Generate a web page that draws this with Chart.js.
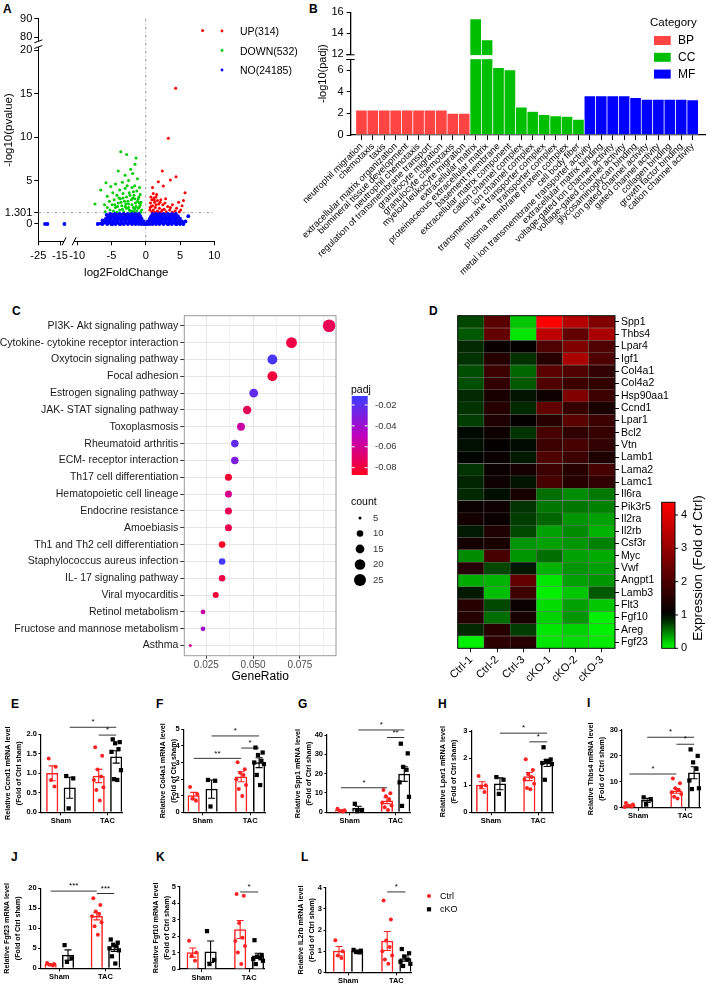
<!DOCTYPE html>
<html>
<head>
<meta charset="utf-8">
<title>Figure</title>
<script src="https://cdn.jsdelivr.net/npm/chart.js@4.4.1/dist/chart.umd.min.js"></script>
<style>
  html, body { margin: 0; padding: 0; background: #fff; }
  body { position: relative; width: 709px; height: 985px; overflow: hidden; font-family: "Liberation Sans", Arial, sans-serif; }
  .tag { position: absolute; font-weight: bold; font-size: 12px; line-height: 12px; }
</style>
</head>
<body>
<div class="tag" style="left:3px;top:3px">A</div>
<div class="tag" style="left:309px;top:3px">B</div>
<div class="tag" style="left:12px;top:305px">C</div>
<div class="tag" style="left:429px;top:305px">D</div>
<div class="tag" style="left:11px;top:698px">E</div>
<div class="tag" style="left:156px;top:698px">F</div>
<div class="tag" style="left:298px;top:698px">G</div>
<div class="tag" style="left:438px;top:698px">H</div>
<div class="tag" style="left:587px;top:697px">I</div>
<div class="tag" style="left:11px;top:851px">J</div>
<div class="tag" style="left:156px;top:851px">K</div>
<div class="tag" style="left:301px;top:851px">L</div>
<script>
// ---------- A: volcano plot, [log2FoldChange, -log10(pvalue)] ----------
const volLegend = ['UP(314)', 'DOWN(532)', 'NO(24185)'];
const volXTicks = [-25, -15, -10, -5, 0, 5, 10];
const volYTicks = [0, 1.301, 5, 10, 15, 20, 80, 90];
const upPts = [[8.3,83.6],[4.37,15.6],[3.3,9.85],[2.42,6.1],[4.42,5.44],[3.6,5.06],[1.84,4.86],[2.57,4.37],[5.73,3.6],[1.0,4.2],
  [1.1,3.5],[1.5,3.1],[1.2,3.0],[0.9,2.8],[1.7,2.7],[2.2,2.8],[2.9,2.9],[4.8,2.5],[5.3,2.1],[5.5,2.7],[3.9,2.2],[0.7,2.4],
  [1.3,2.5],[1.9,2.3],[2.5,2.2],[3.2,2.0],[0.8,2.0],[1.4,1.9],[2.0,1.8],[2.7,1.7],[3.5,1.6],[4.3,1.5],[0.6,1.6],[1.1,1.6],
  [1.7,1.5],[2.3,1.45],[3.0,1.4],[3.9,1.35],[4.9,1.4],[0.9,1.4],[1.5,2.2],[1.0,2.1],[2.1,2.5],[1.3,1.35],[5.1,1.6],[4.5,1.8],
  [1.25,2.75],[0.75,3.1],[1.6,3.4],[2.8,2.4],[3.6,1.9],[2.4,1.6],[1.9,1.35],[0.65,1.9]];
const downPts = [[-3.64,8.3],[-2.77,8.0],[-1.41,7.6],[-1.56,6.86],[-4.0,6.1],[-7.39,2.3],[-6.56,3.9],[-5.79,4.75],[-5.1,4.3],
  [-2.2,6.3],[-1.9,5.8],[-3.0,5.6],[-1.2,5.2],[-2.5,5.0],[-3.4,4.8],[-4.4,4.6],[-1.6,4.4],[-0.9,4.2],[-2.0,4.2],[-3.0,4.1],
  [-3.8,3.9],[-4.8,3.6],[-5.6,3.2],[-1.3,3.8],[-2.4,3.6],[-3.3,3.5],[-4.2,3.3],[-0.8,3.4],[-1.7,3.3],[-2.8,3.1],[-3.7,2.9],
  [-4.6,2.8],[-5.3,2.6],[-6.0,2.2],[-1.1,2.9],[-2.1,2.8],[-3.1,2.6],[-4.0,2.4],[-4.9,2.2],[-5.6,1.9],[-0.7,2.5],[-1.5,2.4],
  [-2.5,2.3],[-3.5,2.1],[-4.4,1.9],[-5.2,1.6],[-0.9,2.0],[-1.8,1.9],[-2.8,1.8],[-3.8,1.6],[-4.7,1.5],[-5.9,1.4],[-0.6,1.6],
  [-1.3,1.5],[-2.2,1.45],[-3.2,1.4],[-4.2,1.35],[-0.75,1.35],[-1.6,1.75],[-2.4,1.6],[-3.0,2.0],[-2.0,2.2],[-1.2,2.6],
  [-2.6,2.6],[-3.6,2.5],[-1.9,3.0],[-2.3,3.3],[-1.0,3.1],[-0.8,2.2],[-1.4,2.0],[-2.7,4.4],[-1.8,3.7],[-3.9,3.0],[-1.1,1.8],
  [-2.0,1.5],[-3.4,1.7],[-4.5,2.2],[-1.6,2.9],[-2.9,2.3],[-0.95,2.45],[-3.3,3.0],[-2.5,1.9],[-1.7,1.45],[-4.1,2.0]];
const noPts = [[-21.9,0],[-20.8,0],[-13,0],[-7.0,0],[-6.6,0.05],[-6.3,0.4],[-4.9,-0.03],[-3.7,0],[6.2,0.9],[5.8,0.3],[5.4,0.05],[4.5,0],[3.3,0],
  [-6.3,0],[-5.6,0],[-5.0,0],[-4.4,0],[-3.8,0],[-3.2,0],[-2.6,0],[-2.0,0],[-1.5,0],[-1.0,0],[-0.6,0],[-0.25,0],[0,0],[0.25,0],
  [0.6,0],[1.0,0],[1.5,0],[2.0,0],[2.6,0],[3.2,0],[3.8,0],[4.4,0],[5.0,0],[5.5,0],
  [-5.9,0.15],[-5.3,0.15],[-4.7,0.15],[-4.1,0.15],[-3.5,0.15],[-2.9,0.15],[-2.3,0.15],[-1.75,0.15],[-1.25,0.15],[-0.8,0.15],
  [-0.45,0.15],[0.45,0.15],[0.8,0.15],[1.25,0.15],[1.75,0.15],[2.3,0.15],[2.9,0.15],[3.5,0.15],[4.1,0.15],[4.7,0.15],[5.2,0.15],
  [-6.0,0.3],[-5.3,0.3],[-4.7,0.3],[-4.1,0.3],[-3.5,0.3],[-2.9,0.3],[-2.3,0.3],[-1.8,0.3],[-1.3,0.3],[-0.9,0.3],[-0.5,0.3],
  [-0.3,0.3],[0.3,0.3],[0.5,0.3],[0.9,0.3],[1.3,0.3],[1.8,0.3],[2.3,0.3],[2.9,0.3],[3.5,0.3],[4.1,0.3],[4.7,0.3],[5.3,0.3],
  [-5.6,0.45],[-4.9,0.45],[-4.3,0.45],[-3.6,0.45],[-3.0,0.45],[-2.4,0.45],[-1.8,0.45],[-1.3,0.45],[-0.8,0.45],[0.8,0.45],
  [1.3,0.45],[1.8,0.45],[2.4,0.45],[3.0,0.45],[3.6,0.45],[4.3,0.45],[4.9,0.45],
  [-5.8,0.6],[-5.1,0.6],[-4.4,0.6],[-3.8,0.6],[-3.2,0.6],[-2.6,0.6],[-2.0,0.6],[-1.5,0.6],[-1.0,0.6],[-0.6,0.6],[0.6,0.6],
  [1.0,0.6],[1.5,0.6],[2.0,0.6],[2.6,0.6],[3.2,0.6],[3.8,0.6],[4.4,0.6],[5.0,0.6],
  [-5.3,0.75],[-4.6,0.75],[-4.0,0.75],[-3.4,0.75],[-2.8,0.75],[-2.2,0.75],[-1.7,0.75],[-1.25,0.75],[-0.85,0.75],[0.75,0.75],
  [1.25,0.75],[1.7,0.75],[2.2,0.75],[2.8,0.75],[3.4,0.75],[4.0,0.75],[4.6,0.75],
  [-5.5,0.9],[-4.8,0.9],[-4.1,0.9],[-3.5,0.9],[-2.9,0.9],[-2.3,0.9],[-1.7,0.9],[-1.2,0.9],[-0.8,0.9],[0.8,0.9],[1.2,0.9],
  [1.7,0.9],[2.3,0.9],[2.9,0.9],[3.5,0.9],[4.1,0.9],[4.7,0.9],
  [-5.7,1.05],[-4.9,1.05],[-4.2,1.05],[-3.5,1.05],[-2.9,1.05],[-2.3,1.05],[-1.75,1.05],[-1.25,1.05],[1.25,1.05],[1.75,1.05],
  [2.3,1.05],[2.9,1.05],[3.5,1.05],[4.2,1.05],
  [-5.2,1.15],[-4.5,1.15],[-3.8,1.15],[-3.2,1.15],[-2.6,1.15],[-2.0,1.15],[-1.5,1.15],[-1.0,1.15],[1.0,1.15],[1.5,1.15],
  [2.0,1.15],[2.6,1.15],[3.2,1.15],[3.8,1.15],[4.4,1.15]];

// ---------- B: GO enrichment ----------
const goTerms = ['neutrophil migration', 'chemotaxis', 'taxis', 'extracellular matrix organization',
  'biomineral tissue development', 'neutrophil chemotaxis', 'regulation of transmembrane transport',
  'granulocyte migration', 'granulocyte chemotaxis', 'myeloid leukocyte migration',
  'extracellular matrix', 'proteinaceous extracellular matrix', 'basement membrane', 'extracellular matrix component',
  'cation channel complex', 'ion channel complex', 'transmembrane transporter complex', 'transporter complex',
  'plasma membrane protein complex', 'cell body fiber',
  'metal ion transmembrane transporter activity', 'extracellular matrix binding', 'voltage-gated ion channel activity',
  'voltage-gated channel activity', 'glycosaminoglycan binding', 'ion gated channel activity', 'gated channel activity',
  'collagen binding', 'growth factor binding', 'cation channel activity'];
const goCategory = ['BP','BP','BP','BP','BP','BP','BP','BP','BP','BP','CC','CC','CC','CC','CC','CC','CC','CC','CC','CC',
  'MF','MF','MF','MF','MF','MF','MF','MF','MF','MF'];
const goPadj = [2.31, 2.31, 2.31, 2.31, 2.31, 2.31, 2.31, 2.31, 2.0, 2.0,
  15.37, 13.37, 6.24, 6.03, 2.58, 2.18, 1.9, 1.78, 1.72, 1.45,
  3.62, 3.62, 3.62, 3.62, 3.46, 3.31, 3.31, 3.31, 3.31, 3.25];
const goCats = ['BP', 'CC', 'MF'];
const goYTicks = [0, 2, 4, 6, 12, 14, 16];

// ---------- C: KEGG dot plot ----------
const keggTerms = ['PI3K- Akt signaling pathway', 'Cytokine- cytokine receptor interaction', 'Oxytocin signaling pathway',
  'Focal adhesion', 'Estrogen signaling pathway', 'JAK- STAT signaling pathway', 'Toxoplasmosis', 'Rheumatoid arthritis',
  'ECM- receptor interaction', 'Th17 cell differentiation', 'Hematopoietic cell lineage', 'Endocrine resistance',
  'Amoebiasis', 'Th1 and Th2 cell differentiation', 'Staphylococcus aureus infection', 'IL- 17 signaling pathway',
  'Viral myocarditis', 'Retinol metabolism', 'Fructose and mannose metabolism', 'Asthma'];
const keggRatio = [0.0906, 0.0705, 0.0603, 0.0603, 0.0503, 0.0468, 0.0435, 0.0402, 0.0402, 0.0368,
  0.0368, 0.0368, 0.0368, 0.0334, 0.0334, 0.0334, 0.0300, 0.0232, 0.0232, 0.0164];
const keggCount = [27, 21, 18, 18, 15, 14, 13, 12, 12, 11, 11, 11, 11, 10, 10, 10, 9, 7, 7, 5];
const keggPadj = [0.074, 0.078, 0.015, 0.080, 0.022, 0.073, 0.055, 0.022, 0.030, 0.082,
  0.062, 0.075, 0.075, 0.085, 0.013, 0.078, 0.080, 0.056, 0.040, 0.060];
const ratioTicks = [0.025, 0.0375, 0.05, 0.0625, 0.075, 0.0875];
const padjLegend = [0.02, 0.04, 0.06, 0.08];
const countLegend = [5, 10, 15, 20, 25];

// ---------- D: heatmap, fold of Ctrl ----------
const heatGenes = ['Spp1', 'Thbs4', 'Lpar4', 'Igf1', 'Col4a1', 'Col4a2', 'Hsp90aa1', 'Ccnd1', 'Lpar1', 'Bcl2', 'Vtn',
  'Lamb1', 'Lama2', 'Lamc1', 'Il6ra', 'Pik3r5', 'Il2ra', 'Il2rb', 'Csf3r', 'Myc', 'Vwf', 'Angpt1', 'Lamb3', 'Flt3',
  'Fgf10', 'Areg', 'Fgf23'];
const heatSamples = ['Ctrl-1', 'Ctrl-2', 'Ctrl-3', 'cKO-1', 'cKO-2', 'cKO-3'];
const heatValues = [
  [0.72, 2.19, 0.22, 4.38, 3.40, 2.70],
  [0.65, 2.30, 0.10, 3.50, 2.30, 3.25],
  [0.84, 1.10, 1.05, 2.05, 2.70, 2.05],
  [0.80, 1.50, 0.80, 1.50, 3.25, 2.05],
  [0.69, 1.80, 0.60, 2.20, 2.05, 1.65],
  [0.69, 1.65, 0.65, 2.05, 1.80, 1.65],
  [0.84, 1.33, 0.92, 1.20, 2.70, 1.80],
  [0.80, 1.50, 0.84, 2.30, 1.73, 1.33],
  [0.76, 1.40, 1.07, 1.50, 2.20, 1.80],
  [0.96, 1.20, 0.80, 1.93, 1.65, 1.73],
  [0.94, 1.07, 0.96, 1.80, 1.93, 1.65],
  [0.98, 1.13, 0.90, 2.05, 1.80, 1.40],
  [0.80, 1.13, 1.27, 1.80, 1.50, 1.93],
  [0.86, 1.20, 0.92, 1.93, 1.50, 1.65],
  [0.84, 0.94, 1.33, 0.57, 0.45, 0.53],
  [1.13, 1.20, 0.80, 0.53, 0.53, 0.49],
  [1.27, 1.13, 0.76, 0.60, 0.41, 0.37],
  [0.90, 1.40, 0.72, 0.37, 0.45, 0.30],
  [1.27, 1.33, 0.41, 0.37, 0.41, 0.49],
  [0.45, 1.93, 0.41, 0.57, 0.37, 0.33],
  [1.50, 0.72, 0.90, 0.30, 0.41, 0.37],
  [0.33, 0.30, 2.30, 0.10, 0.37, 0.41],
  [0.90, 0.25, 1.80, 0.06, 0.22, 0.65],
  [1.50, 0.72, 1.13, 0.14, 0.37, 0.22],
  [1.50, 0.57, 1.33, 0.18, 0.41, 0.06],
  [0.84, 1.50, 0.76, 0.10, 0.18, 0.06],
  [0.06, 1.58, 1.50, 0.10, 0.14, 0.08]];
const heatTicks = [0, 1, 2, 3, 4];

// ---------- E-L: qPCR, order Ctrl Sham, cKO Sham, Ctrl TAC, cKO TAC ----------
const groupNames = ['Sham', 'TAC'];
const ccnd1Mean = [1.0, 0.63, 0.93, 1.42], ccnd1Sem = [0.19, 0.27, 0.17, 0.16];
const ccnd1Pts = [[1.38, 1.17, 0.83, 0.66], [0.93, 0.87, 0.1], [1.67, 1.45, 1.1, 0.92, 0.83, 0.64, 0.57, 0.3],
  [1.87, 1.8, 1.77, 1.62, 1.55, 1.08, 0.85, 0.83]];
const ccnd1Sig = [[1, 3, 2.18, '*'], [2, 3, 1.98, '*']];
const col4a1Mean = [1.0, 1.4, 2.14, 2.99], col4a1Sem = [0.2, 0.55, 0.3, 0.3];
const col4a1Pts = [[1.52, 1.1, 0.82, 0.7], [1.95, 1.9, 0.35], [3.01, 2.59, 2.39, 2.25, 1.99, 1.64, 1.4, 0.98],
  [3.9, 3.6, 3.45, 3.1, 3.0, 2.9, 2.25, 1.64]];
const col4a1Sig = [[1, 3, 4.6, '*'], [0, 2, 3.25, '**'], [2, 3, 3.87, '*']];
const spp1Mean = [1.0, 2.0, 6.0, 19.8], spp1Sem = [0.3, 1.1, 1.5, 3.8];
const spp1Pts = [[1.8, 1.1, 0.7, 0.4], [4.4, 1.2, 0.6], [11.5, 9.8, 8.3, 6.5, 5.0, 3.5, 2.6, 1.2],
  [35.5, 30.5, 23.5, 22, 15.5, 8, 3.3]];
const spp1Sig = [[1, 3, 42.6, '*'], [2, 3, 38.7, '**'], [0, 2, 12.7, '*']];
const lpar1Mean = [1.0, 1.05, 1.32, 1.82], lpar1Sem = [0.13, 0.22, 0.15, 0.13];
const lpar1Pts = [[1.34, 1.0, 0.95, 0.75], [1.3, 1.2, 0.68], [1.96, 1.56, 1.4, 1.3, 1.2, 1.05, 0.9, 0.85],
  [2.4, 1.95, 1.9, 1.88, 1.82, 1.78, 1.2]];
const lpar1Sig = [[1, 3, 2.92, '*'], [2, 3, 2.6, '*']];
const thbs4Mean = [1.0, 2.8, 6.5, 13.5], thbs4Sem = [0.35, 0.8, 0.9, 2.3];
const thbs4Pts = [[1.8, 1.2, 0.7, 0.5, 0.3], [4.0, 3.3, 1.2], [11.3, 9.4, 7.5, 6.8, 6.0, 5.3, 4.2, 3.6],
  [22.5, 20, 17.5, 15, 10.5, 7.5, 7.2]];
const thbs4Sig = [[1, 3, 27.2, '*'], [2, 3, 24.5, '*'], [0, 2, 13, '*']];
const fgf23Mean = [1.0, 3.3, 13.0, 4.8], fgf23Sem = [0.15, 1.3, 0.9, 0.6];
const fgf23Pts = [[1.3, 1.1, 0.9, 0.7], [5.8, 2.5, 1.6], [17.5, 15.8, 14.2, 13.6, 13.0, 11.5, 10.5, 8.4],
  [7.2, 6.4, 5.9, 5.5, 5.0, 4.5, 3.0, 1.2]];
const fgf23Sig = [[0, 2, 19.3, '***'], [2, 3, 18.7, '***']];
const fgf10Mean = [1.0, 1.05, 2.4, 0.8], fgf10Sem = [0.28, 0.65, 0.55, 0.16];
const fgf10Pts = [[1.72, 1.0, 0.8, 0.5], [2.3, 0.55, 0.3], [4.55, 4.45, 2.8, 1.9, 1.7, 1.4, 1.0, 0.3],
  [1.75, 0.85, 0.75, 0.65, 0.6, 0.5, 0.3]];
const fgf10Sig = [[2, 3, 4.68, '*']];
const il2rbMean = [1.0, 1.0, 1.48, 0.65], il2rbSem = [0.22, 0.05, 0.45, 0.12];
const il2rbPts = [[1.52, 1.0, 0.8, 0.68], [1.06, 1.02, 0.96, 0.94], [3.4, 2.5, 1.5, 1.2, 1.0, 0.8, 0.6, 0.4],
  [1.1, 0.9, 0.75, 0.6, 0.5, 0.4, 0.3]];
const il2rbSig = [[2, 3, 3.8, '*']];

// ---------- common setup ----------
const FONT = '"Liberation Sans", Arial, sans-serif';
Chart.defaults.font.family = FONT;
Chart.defaults.color = '#000';
Chart.defaults.animation = false;
Chart.defaults.responsive = false;
Chart.defaults.events = [];
Chart.defaults.plugins.legend.display = false;
Chart.defaults.plugins.tooltip.enabled = false;

function makeCanvas(left, top, w, h) {
  const c = document.createElement('canvas');
  c.width = w; c.height = h;
  c.style.cssText = 'position:absolute;left:' + left + 'px;top:' + top + 'px;width:' + w + 'px;height:' + h + 'px';
  document.body.appendChild(c);
  return c;
}

// broken axes of panel A (y 20..80 and x -15..-10 cut out)
const volY = v => v <= 20 ? v : 21.46 + (v - 80) * 0.214;
const volX = v => v >= -10 ? v : -12.49 + (v + 15) * 0.317;
const volPt = p => ({ x: volX(p[0]), y: volY(p[1]) });
// broken axis of panel B (7..12 cut out)
const goY = v => v <= 7 ? v : 7.486 + (v - 12) * 0.974;

function padjColor(p) {
  let t = (p - 0.0114) / (0.087 - 0.0114);
  t = Math.max(0, Math.min(1, t));
  const a = [60, 60, 255], m = [190, 0, 190], b = [255, 0, 30];
  const c = t < 0.5 ? a.map((v, i) => v + (m[i] - v) * t / 0.5) : m.map((v, i) => v + (b[i] - v) * (t - 0.5) / 0.5);
  return 'rgb(' + c.map(Math.round).join(',') + ')';
}
function countRadius(c) {
  return Math.sqrt(2.25 + (c - 5) / 22 * (6.3 * 6.3 - 2.25));
}
function heatColor(v) {
  if (v <= 1) return 'rgb(0,' + Math.round(255 * (1 - Math.max(v, 0))) + ',0)';
  return 'rgb(' + Math.round(255 * Math.min((v - 1) / 3.38, 1)) + ',0,0)';
}

// ---------- A ----------
const volDeco = {
  id: 'volDeco',
  beforeDatasetsDraw(chart) {
    const { ctx, chartArea: a, scales: { x, y } } = chart;
    const x0 = x.getPixelForValue(0), y0 = y.getPixelForValue(volY(1.301));
    ctx.save();
    ctx.strokeStyle = '#8c8c8c'; ctx.lineWidth = 0.8; ctx.setLineDash([3, 2, 1, 2]);
    ctx.beginPath();
    ctx.moveTo(x0, a.top); ctx.lineTo(x0, a.bottom);
    ctx.moveTo(a.left, y0); ctx.lineTo(a.right, y0);
    ctx.stroke();
    ctx.restore();
  },
  afterDraw(chart) {
    const { ctx, chartArea: a, scales: { x, y } } = chart;
    ctx.save();
    ctx.fillStyle = '#fff';
    const bx1 = x.getPixelForValue(volX(-15)) + 4, bx2 = x.getPixelForValue(volX(-10)) - 3;
    ctx.fillRect(bx1, a.bottom - 2, bx2 - bx1, 4);
    const by1 = y.getPixelForValue(volY(80)) + 4, by2 = y.getPixelForValue(volY(20)) - 3;
    ctx.fillRect(a.left - 2, by1, 4, by2 - by1);
    ctx.strokeStyle = '#000'; ctx.lineWidth = 1;
    ctx.beginPath();
    [bx1, bx2].forEach(p => { ctx.moveTo(p - 2, a.bottom + 4); ctx.lineTo(p + 2, a.bottom - 4); });
    [by1, by2].forEach(p => { ctx.moveTo(a.left - 4, p + 1.5); ctx.lineTo(a.left + 4, p - 1.5); });
    ctx.stroke();
    // legend
    const cols = ['#FF0000', '#00CC00', '#0000FF'];
    ctx.font = '10.5px ' + FONT; ctx.textBaseline = 'middle';
    volLegend.forEach((t, i) => {
      const yy = 31 + i * 19.5;
      ctx.fillStyle = cols[i];
      ctx.beginPath(); ctx.arc(222, yy, 1.4, 0, 2 * Math.PI); ctx.fill();
      ctx.fillStyle = '#000';
      ctx.fillText(t, 240, yy + 1.5);
    });
    ctx.restore();
  }
};
new Chart(makeCanvas(0, 0, 310, 290), {
  type: 'scatter',
  data: { datasets: [
    { label: volLegend[2], data: noPts.map(volPt), backgroundColor: '#0000FF', pointRadius: 1.9, borderWidth: 0 },
    { label: volLegend[1], data: downPts.map(volPt), backgroundColor: '#00CC00', pointRadius: 1.5, borderWidth: 0 },
    { label: volLegend[0], data: upPts.map(volPt), backgroundColor: '#FF0000', pointRadius: 1.5, borderWidth: 0 }
  ] },
  options: {
    layout: { padding: { left: 0, top: 18.7, right: 95.7, bottom: 0 } },
    scales: {
      x: {
        type: 'linear', min: volX(-25), max: 10,
        afterBuildTicks: s => { s.ticks = volXTicks.map(v => ({ value: volX(v) })); },
        afterFit: s => { s.height = 48.7; },
        ticks: { autoSkip: false, maxRotation: 0, padding: 4, font: { size: 11 }, callback: (v, i) => String(volXTicks[i]) },
        grid: { drawOnChartArea: false, tickLength: 4, color: '#000' },
        border: { color: '#000', width: 1 },
        title: { display: true, text: 'log2FoldChange', font: { size: 11.5 }, padding: { top: 0, bottom: 10.5 } }
      },
      y: {
        type: 'linear', min: -1.99, max: volY(90),
        afterBuildTicks: s => { s.ticks = volYTicks.map(v => ({ value: volY(v) })); },
        afterFit: s => { s.width = 38.3; },
        ticks: { autoSkip: false, padding: 2, font: { size: 11 }, callback: (v, i) => String(volYTicks[i]) },
        grid: { drawOnChartArea: false, tickLength: 4, color: '#000' },
        border: { color: '#000', width: 1 },
        title: { display: true, text: '-log10(pvalue)', font: { size: 11.5 }, padding: { top: 1.5, bottom: 0 } }
      }
    }
  },
  plugins: [volDeco]
});

// ---------- B ----------
const goColors = { BP: '#FF4444', CC: '#00BE00', MF: '#0000FF' };
const goDeco = {
  id: 'goDeco',
  afterDatasetsDraw(chart) {
    const { ctx, chartArea: a, scales: { y } } = chart;
    const yTop = y.getPixelForValue(goY(12)), yBot = y.getPixelForValue(6.96);
    ctx.save();
    ctx.fillStyle = '#fff';
    ctx.fillRect(a.left - 1.5, yTop + 0.8, a.right - a.left + 2, yBot - yTop - 1.6);
    ctx.strokeStyle = '#000'; ctx.lineWidth = 1;
    ctx.beginPath();
    [yTop + 0.5, yBot - 0.5].forEach(p => { ctx.moveTo(a.left - 4.5, p); ctx.lineTo(a.left + 4, p); });
    ctx.stroke();
    ctx.restore();
  },
  afterDraw(chart) {
    const ctx = chart.ctx, ox = 276;
    ctx.save();
    ctx.textBaseline = 'middle';
    ctx.font = '11.5px ' + FONT; ctx.fillStyle = '#000';
    ctx.fillText('Category', 650 - ox, 23);
    ctx.font = '12px ' + FONT;
    goCats.forEach((c, i) => {
      const yy = 40.5 + i * 16.8;
      ctx.fillStyle = goColors[c];
      ctx.fillRect(654 - ox, yy - 4.5, 16.7, 9);
      ctx.fillStyle = '#000';
      ctx.fillText(c, 678 - ox, yy + 0.5);
    });
    ctx.restore();
  }
};
new Chart(makeCanvas(276, 0, 433, 300), {
  type: 'bar',
  data: { datasets: goCats.map(c => ({
    label: c,
    data: goTerms.map((t, i) => ({ x: i, y: goY(goPadj[i]), cat: goCategory[i] })).filter(d => d.cat === c),
    backgroundColor: goColors[c], borderColor: 'rgba(255,255,255,0.7)', borderWidth: 0.7, borderSkipped: false,
    barThickness: 11.42, grouped: false
  })) },
  options: {
    layout: { padding: { left: 40, top: 12.3, right: 4, bottom: 0 } },
    scales: {
      x: {
        type: 'linear', offset: false, min: -0.94, max: 30.08,
        afterBuildTicks: s => { s.ticks = goTerms.map((t, i) => ({ value: i })); },
        afterFit: s => { s.height = 165; },
        ticks: { autoSkip: false, minRotation: 45, maxRotation: 45, padding: 1, font: { size: 9.2 }, callback: (v, i) => goTerms[i] },
        grid: { offset: false, drawOnChartArea: false, tickLength: 5, color: '#000' },
        border: { color: '#000', width: 1.3 }
      },
      y: {
        type: 'linear', min: 0, max: goY(16),
        afterBuildTicks: s => { s.ticks = goYTicks.map(v => ({ value: goY(v) })); },
        afterFit: s => { s.width = 34.7; },
        ticks: { autoSkip: false, padding: 3, font: { size: 11 }, callback: (v, i) => String(goYTicks[i]) },
        grid: { drawOnChartArea: false, tickLength: 4, color: '#000' },
        border: { color: '#000', width: 1.3 },
        title: { display: true, text: '-log10(padj)', font: { size: 11 }, padding: 0 }
      }
    }
  },
  plugins: [goDeco]
});

// ---------- C ----------
const isMajor = v => Math.round(v * 10000) % 250 === 0;
const keggDeco = {
  id: 'keggDeco',
  afterDatasetsDraw(chart) {
    const { ctx, chartArea: a } = chart;
    ctx.save();
    ctx.strokeStyle = '#9a9a9a'; ctx.lineWidth = 1;
    ctx.strokeRect(a.left, a.top, a.right - a.left, a.bottom - a.top);
    ctx.restore();
  },
  afterDraw(chart) {
    const ctx = chart.ctx, oy = 300;
    ctx.save();
    ctx.textBaseline = 'middle';
    ctx.fillStyle = '#000'; ctx.font = '10.5px ' + FONT;
    ctx.fillText('padj', 351, 390 - oy);
    const bx = 351.7, by = 396 - oy, bw = 16, bh = 79;
    const grad = ctx.createLinearGradient(0, by, 0, by + bh);
    for (let k = 0; k <= 10; k++) grad.addColorStop(k / 10, padjColor(0.0114 + k / 10 * (0.087 - 0.0114)));
    ctx.fillStyle = grad;
    ctx.fillRect(bx, by, bw, bh);
    ctx.font = '9.5px ' + FONT; ctx.fillStyle = '#333';
    ctx.strokeStyle = '#fff'; ctx.lineWidth = 1;
    padjLegend.forEach(v => {
      const yy = by + (v - 0.0114) / (0.087 - 0.0114) * bh;
      ctx.beginPath(); ctx.moveTo(bx, yy); ctx.lineTo(bx + 3, yy); ctx.moveTo(bx + bw - 3, yy); ctx.lineTo(bx + bw, yy); ctx.stroke();
      ctx.fillText('-' + v.toFixed(2), 375, yy);
    });
    ctx.fillStyle = '#000'; ctx.font = '10.5px ' + FONT;
    ctx.fillText('count', 351, 502 - oy);
    countLegend.forEach((c, i) => {
      const yy = 518 - oy + i * 15.5;
      ctx.fillStyle = '#000';
      ctx.beginPath(); ctx.arc(360, yy, countRadius(c), 0, 2 * Math.PI); ctx.fill();
      ctx.fillStyle = '#333'; ctx.font = '9.5px ' + FONT;
      ctx.fillText(String(c), 373, yy);
    });
    ctx.restore();
  }
};
new Chart(makeCanvas(0, 300, 420, 390), {
  type: 'bubble',
  data: { datasets: [{
    data: keggTerms.map((t, i) => ({ x: keggRatio[i], y: i, r: countRadius(keggCount[i]) })),
    backgroundColor: keggPadj.map(padjColor), borderWidth: 0
  }] },
  options: {
    layout: { padding: { left: 0, top: 15.7, right: 84, bottom: 0 } },
    scales: {
      x: {
        type: 'linear', min: 0.0132, max: 0.0943,
        afterBuildTicks: s => { s.ticks = ratioTicks.map(v => ({ value: v })); },
        afterFit: s => { s.height = 34.3; },
        ticks: { autoSkip: false, maxRotation: 0, padding: 1, color: '#4d4d4d', font: { size: 10 },
          callback: v => isMajor(v) ? v.toFixed(3) : '' },
        grid: {
          color: c => (c.tick && isMajor(c.tick.value)) ? '#E6E6E6' : '#F0F0F0',
          tickColor: c => (c.tick && isMajor(c.tick.value)) ? '#333' : 'rgba(0,0,0,0)',
          tickLength: 3
        },
        border: { display: false },
        title: { display: true, text: 'GeneRatio', font: { size: 12 }, padding: { top: 0, bottom: 6 } }
      },
      y: {
        type: 'linear', min: -0.6, max: 19.6, reverse: true,
        afterBuildTicks: s => { s.ticks = keggTerms.map((t, i) => ({ value: i })); },
        afterFit: s => { s.width = 184.3; },
        ticks: { autoSkip: false, padding: 2, color: '#1a1a1a', font: { size: 10.5 }, callback: (v, i) => keggTerms[i] },
        grid: { color: '#E6E6E6', tickColor: '#333', tickLength: 4 },
        border: { display: false }
      }
    }
  },
  plugins: [keggDeco]
});

// ---------- D ----------
const heatDeco = {
  id: 'heatDeco',
  afterDatasetsDraw(chart) {
    const { ctx, chartArea: a } = chart;
    ctx.save();
    ctx.strokeStyle = '#000'; ctx.lineWidth = 1;
    ctx.strokeRect(a.left, a.top, a.right - a.left, a.bottom - a.top);
    ctx.restore();
  },
  afterDraw(chart) {
    const ctx = chart.ctx, ox = 420, oy = 300;
    const bx = 661.7 - ox, by = 502.3 - oy, bw = 13.3, bh = 146, vmax = 4.38;
    ctx.save();
    const grad = ctx.createLinearGradient(0, by + bh, 0, by);
    for (let k = 0; k <= 20; k++) grad.addColorStop(k / 20, heatColor(k / 20 * vmax));
    ctx.fillStyle = grad;
    ctx.fillRect(bx, by, bw, bh);
    ctx.strokeStyle = '#000'; ctx.lineWidth = 1;
    ctx.strokeRect(bx, by, bw, bh);
    ctx.font = '11px ' + FONT; ctx.fillStyle = '#000'; ctx.textBaseline = 'middle';
    heatTicks.forEach(v => {
      const yy = by + bh - v / vmax * bh;
      ctx.beginPath(); ctx.moveTo(bx + bw, yy); ctx.lineTo(bx + bw + 3, yy); ctx.stroke();
      ctx.fillText(String(v), bx + bw + 6, yy);
    });
    ctx.translate(698 - ox, 568 - oy);
    ctx.rotate(-Math.PI / 2);
    ctx.textAlign = 'center';
    ctx.font = '13.5px ' + FONT;
    ctx.fillText('Expression (Fold of Ctrl)', 0, 0);
    ctx.restore();
  }
};
new Chart(makeCanvas(420, 300, 289, 390), {
  type: 'bar',
  data: {
    labels: heatSamples,
    datasets: heatGenes.map((g, i) => ({
      label: g,
      data: heatValues[i].map(() => [i - 0.5, i + 0.5]),
      backgroundColor: heatValues[i].map(heatColor),
      borderColor: 'rgba(105,105,105,0.9)', borderWidth: 0.5, borderSkipped: false,
      barPercentage: 1, categoryPercentage: 1, grouped: false
    }))
  },
  options: {
    layout: { padding: { left: 37.7, top: 15.7, right: 0, bottom: 0 } },
    scales: {
      x: {
        afterFit: s => { s.height = 41.7; },
        ticks: { autoSkip: false, minRotation: 45, maxRotation: 45, padding: 1, font: { size: 11 } },
        grid: { offset: false, drawOnChartArea: false, tickLength: 4, color: '#000' },
        border: { display: false }
      },
      y: {
        type: 'linear', position: 'right', min: -0.5, max: 26.5, reverse: true,
        afterBuildTicks: s => { s.ticks = heatGenes.map((g, i) => ({ value: i })); },
        afterFit: s => { s.width = 94; },
        ticks: { autoSkip: false, padding: 2, font: { size: 10.5 }, callback: (v, i) => heatGenes[i] },
        grid: { drawOnChartArea: false, tickLength: 4, color: '#000' },
        border: { display: false }
      }
    }
  },
  plugins: [heatDeco]
});

// ---------- E-L ----------
const RED = '#FF2222';
const barPos = [1, 2, 3.65, 4.65];
const jitter = [-0.2, 0.2, -0.06, 0.13, -0.27, 0.27, -0.13, 0.06];
const smallLayout = {
  E: { axisX: 41, top: 734.3, bot: 812.3, off: 11.3, unit: 17.7, titleX: 8.3 },
  F: { axisX: 183.7, top: 729.3, bot: 812.3, off: 10, unit: 18, titleX: 162.8 },
  G: { axisX: 327, top: 735, bot: 812.3, off: 14, unit: 17.4, titleX: 298.3 },
  H: { axisX: 471.5, top: 731, bot: 812.3, off: 10.7, unit: 17.9, titleX: 443.3 },
  I: { axisX: 622, top: 730, bot: 807.7, off: 7.5, unit: 17.8, titleX: 591.7 },
  J: { axisX: 40.7, top: 888.3, bot: 968.3, off: 10, unit: 17.6, titleX: 7.3 },
  K: { axisX: 180, top: 886.7, bot: 969, off: 12.8, unit: 18.1, titleX: 156.2 },
  L: { axisX: 326, top: 887.7, bot: 972.3, off: 13, unit: 18.2, titleX: 301.7, extra: 58, legend: true }
};

function smallPanel(key, gene, mean, sem, pts, sig, yMax, yStep, dec) {
  const g = smallLayout[key];
  const titleSize = 7.2, titleLH = 1.45;
  const left = Math.round(g.titleX - titleSize * titleLH / 2);
  const top = Math.round(g.top - 20);
  const xMin = 1 - g.off / g.unit, xMax = 4.98;
  const chartW = (xMax - xMin) * g.unit;
  const yW = g.axisX - left;
  const w = Math.ceil(yW + chartW + 3 + (g.extra || 0));
  const h = Math.ceil(g.bot + 18 - top);
  const padTop = g.top - top;
  const xH = h - padTop - (g.bot - g.top);
  const ptsFor = gs => gs.flatMap(gi => pts[gi].map((v, k) => ({ x: barPos[gi] + jitter[k % jitter.length], y: v })));

  const deco = {
    id: 'deco' + key,
    afterDatasetDraw(chart, args) {
      if (args.meta.type !== 'bar') return;
      const { ctx, scales: { x, y } } = chart;
      ctx.save();
      ctx.lineWidth = 1.1;
      mean.forEach((m, i) => {
        const px = x.getPixelForValue(barPos[i]);
        const y1 = y.getPixelForValue(m - sem[i]), y2 = y.getPixelForValue(m + sem[i]);
        ctx.strokeStyle = i % 2 ? '#000' : RED;
        ctx.beginPath();
        ctx.moveTo(px, y1); ctx.lineTo(px, y2);
        ctx.moveTo(px - 3.5, y2); ctx.lineTo(px + 3.5, y2);
        ctx.moveTo(px - 3.5, y1); ctx.lineTo(px + 3.5, y1);
        ctx.stroke();
      });
      ctx.restore();
    },
    afterDraw(chart) {
      const { ctx, scales: { x, y } } = chart;
      ctx.save();
      ctx.strokeStyle = '#000'; ctx.fillStyle = '#000'; ctx.lineWidth = 0.8;
      ctx.font = '8px ' + FONT; ctx.textAlign = 'center'; ctx.textBaseline = 'bottom';
      sig.forEach(([a, b, v, s]) => {
        const x1 = x.getPixelForValue(barPos[a]), x2 = x.getPixelForValue(barPos[b]), yy = y.getPixelForValue(v);
        ctx.beginPath(); ctx.moveTo(x1, yy); ctx.lineTo(x2, yy); ctx.stroke();
        ctx.fillText(s, (x1 + x2) / 2, yy - 1);
      });
      if (g.legend) {
        ctx.textAlign = 'left'; ctx.textBaseline = 'middle'; ctx.font = '9px ' + FONT;
        ctx.fillStyle = RED;
        ctx.beginPath(); ctx.arc(429 - left, 896 - top, 2, 0, 2 * Math.PI); ctx.fill();
        ctx.fillStyle = '#000';
        ctx.fillRect(429 - left - 2.1, 909.3 - top - 2.1, 4.2, 4.2);
        ctx.fillText('Ctrl', 440 - left, 896.5 - top);
        ctx.fillText('cKO', 440 - left, 909.8 - top);
      }
      ctx.restore();
    }
  };

  new Chart(makeCanvas(left, top, w, h), {
    type: 'bar',
    data: { datasets: [
      { type: 'scatter', order: 0, clip: false, data: ptsFor([0, 2]), backgroundColor: RED, pointRadius: 2, borderWidth: 0 },
      { type: 'scatter', order: 0, clip: false, data: ptsFor([1, 3]), backgroundColor: '#000', pointStyle: 'rect', pointRadius: 3, borderWidth: 0 },
      { type: 'bar', order: 2, data: mean.map((m, i) => ({ x: barPos[i], y: m })), backgroundColor: '#fff',
        borderColor: [RED, '#000', RED, '#000'], borderWidth: 1.5, barThickness: 11.5 }
    ] },
    options: {
      layout: { padding: { left: 0, top: padTop, right: w - yW - chartW, bottom: 0 } },
      scales: {
        x: {
          type: 'linear', offset: false, min: xMin, max: xMax,
          afterBuildTicks: s => { s.ticks = [{ value: 1.5 }, { value: 4.15 }]; },
          afterFit: s => { s.height = xH; },
          ticks: { autoSkip: false, maxRotation: 0, padding: 1, font: { size: 7.5, weight: 'bold' }, callback: (v, i) => groupNames[i] },
          grid: { offset: false, drawOnChartArea: false, tickLength: 3, color: '#000' },
          border: { color: '#000', width: 1.2 }
        },
        y: {
          min: 0, max: yMax,
          afterFit: s => { s.width = yW; },
          ticks: { stepSize: yStep, padding: 1.5, font: { size: 7.5, weight: 'bold' }, callback: v => v.toFixed(dec) },
          grid: { drawOnChartArea: false, tickLength: 2.5, color: '#000' },
          border: { color: '#000', width: 1.2 },
          title: { display: true, text: ['Relative ' + gene + ' mRNA level', '(Fold of Ctrl sham)'],
            font: { size: titleSize, weight: 'bold', lineHeight: titleLH }, padding: 0 }
        }
      }
    },
    plugins: [deco]
  });
}

smallPanel('E', 'Ccnd1', ccnd1Mean, ccnd1Sem, ccnd1Pts, ccnd1Sig, 2, 0.5, 1);
smallPanel('F', 'Col4a1', col4a1Mean, col4a1Sem, col4a1Pts, col4a1Sig, 5, 1, 0);
smallPanel('G', 'Spp1', spp1Mean, spp1Sem, spp1Pts, spp1Sig, 40, 10, 0);
smallPanel('H', 'Lpar1', lpar1Mean, lpar1Sem, lpar1Pts, lpar1Sig, 3, 1, 0);
smallPanel('I', 'Thbs4', thbs4Mean, thbs4Sem, thbs4Pts, thbs4Sig, 30, 10, 0);
smallPanel('J', 'Fgf23', fgf23Mean, fgf23Sem, fgf23Pts, fgf23Sig, 20, 5, 0);
smallPanel('K', 'Fgf10', fgf10Mean, fgf10Sem, fgf10Pts, fgf10Sig, 5, 1, 0);
smallPanel('L', 'IL2rb', il2rbMean, il2rbSem, il2rbPts, il2rbSig, 4, 1, 0);
</script>
</body>
</html>
